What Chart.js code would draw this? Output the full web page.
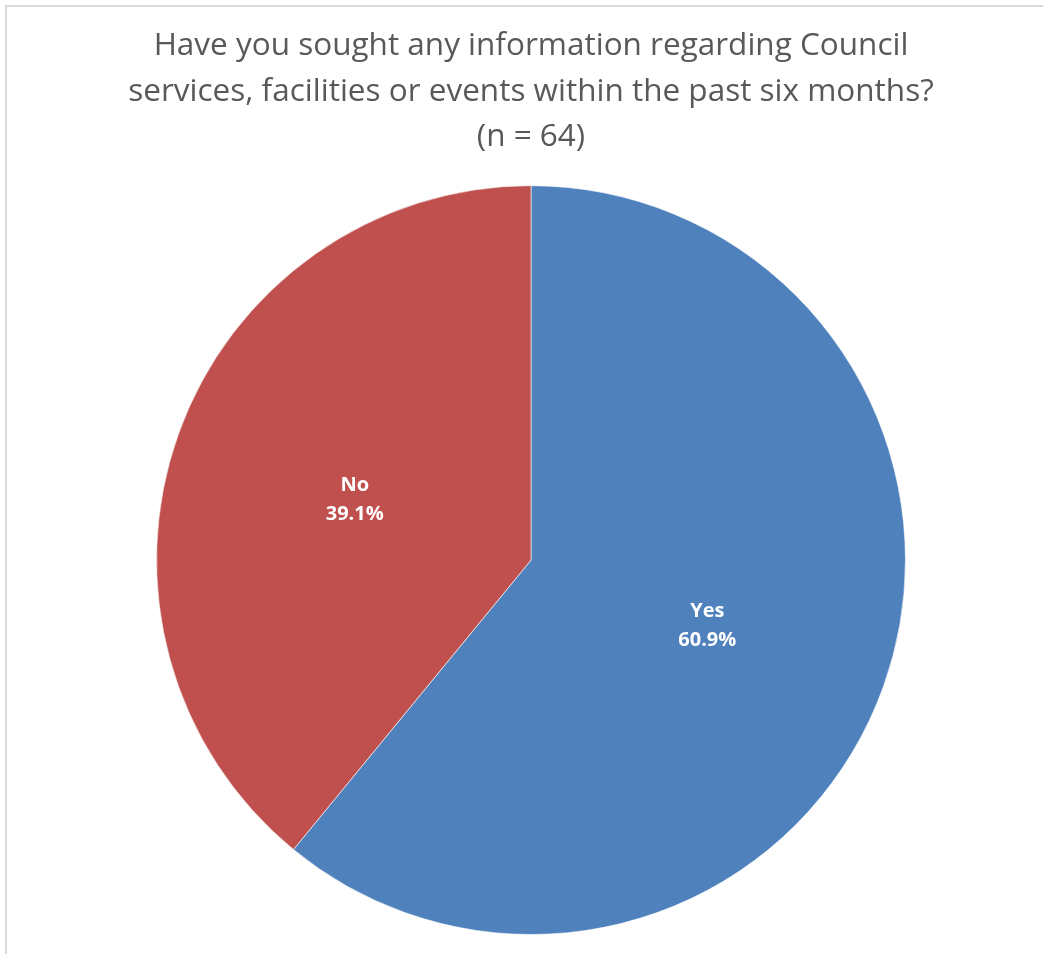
<!DOCTYPE html>
<html>
<head>
<meta charset="utf-8">
<script src="https://cdn.jsdelivr.net/npm/chart.js@4/dist/chart.umd.min.js"></script>
<style>
  html, body { margin: 0; padding: 0; background: #fff; overflow: hidden; }
  #frame {
    position: absolute; left: 5px; top: 5px;
    width: 1100px; height: 1100px;
    border: 2px solid #d9d9d9;
  }
  #wrap { position: absolute; left: 0; top: 0; width: 1043px; height: 954px; }
</style>
</head>
<body>
<div id="frame"></div>
<div id="wrap"><canvas id="pie"></canvas></div>
<script>
const titleLines = [
  "Have you sought any information regarding Council",
  "services, facilities or events within the past six months?",
  "(n = 64)"
];
const answers = ["Yes", "No"];
const counts = [39, 25];
const sliceColors = ["#4f81bd", "#c0504d"];

// category name + share written inside each slice
const sliceLabels = {
  id: "sliceLabels",
  afterDatasetsDraw(chart) {
    const ctx = chart.ctx;
    const meta = chart.getDatasetMeta(0);
    const total = counts.reduce((a, b) => a + b, 0);
    ctx.save();
    ctx.fillStyle = "#fff";
    ctx.font = "bold 20px 'Open Sans', sans-serif";
    ctx.textAlign = "center";
    ctx.textBaseline = "middle";
    meta.data.forEach((arc, i) => {
      const p = arc.tooltipPosition();
      const pct = (counts[i] / total * 100).toFixed(1) + "%";
      ctx.fillText(answers[i], p.x, p.y - 12);
      ctx.fillText(pct, p.x, p.y + 17);
    });
    ctx.restore();
  }
};

new Chart(document.getElementById("pie"), {
  type: "pie",
  data: {
    labels: answers,
    datasets: [{
      data: counts,
      backgroundColor: sliceColors,
      borderColor: "rgba(255,255,255,0.6)",
      borderWidth: 1
    }]
  },
  options: {
    responsive: true,
    maintainAspectRatio: false,
    animation: false,
    layout: { padding: { left: 19, right: 0, top: 0, bottom: 19 } },
    plugins: {
      legend: { display: false },
      tooltip: { enabled: false },
      title: {
        display: true,
        text: titleLines,
        color: "#595959",
        font: { family: "'Open Sans', sans-serif", size: 31.5, weight: "normal", lineHeight: 1.43 },
        padding: { top: 24, bottom: 26 }
      }
    }
  },
  plugins: [sliceLabels]
});
</script>
</body>
</html>
